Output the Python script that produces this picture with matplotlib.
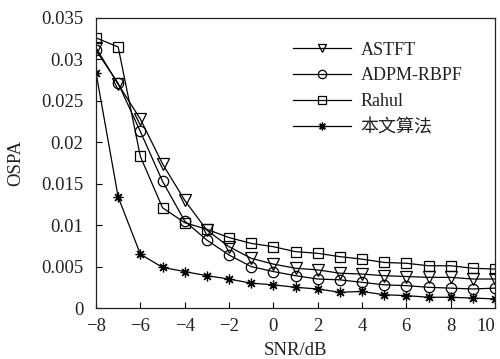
import numpy as np
import matplotlib
matplotlib.use("Agg")
import matplotlib.pyplot as plt

# SNR (dB) and OSPA values per method
snr = [-8, -7, -6, -5, -4, -3, -2, -1, 0, 1, 2, 3, 4, 5, 6, 7, 8, 9, 10]
astft = [0.0314, 0.0270, 0.0228, 0.0174, 0.0130, 0.0094, 0.0074, 0.0060, 0.0053, 0.0048,
         0.0046, 0.0042, 0.0041, 0.0039, 0.0038, 0.0037, 0.0037, 0.0035, 0.0035]
adpm_rbpf = [0.0311, 0.0271, 0.0213, 0.0153, 0.0105, 0.0082, 0.0064, 0.0050, 0.0044, 0.0039,
             0.0035, 0.0034, 0.0031, 0.0028, 0.0027, 0.0025, 0.0024, 0.0023, 0.0024]
rahul = [0.0326, 0.0315, 0.0183, 0.0121, 0.0103, 0.0095, 0.0085, 0.0078, 0.0074, 0.0068,
         0.0066, 0.0062, 0.0059, 0.0055, 0.0054, 0.0051, 0.0051, 0.0048, 0.0047]
ours = [0.0284, 0.0134, 0.0065, 0.0049, 0.0044, 0.0039, 0.0035, 0.0030, 0.0028, 0.0025,
        0.0023, 0.0019, 0.0020, 0.0016, 0.0015, 0.0013, 0.0013, 0.0012, 0.0011]

labels = ["ASTFT", "ADPM-RBPF", "Rahul", "本文算法"]
xticks = [-8, -6, -4, -2, 0, 2, 4, 6, 8, 10]
yticks = [0, 0.005, 0.01, 0.015, 0.02, 0.025, 0.03, 0.035]
ytick_labels = ["0", "0.005", "0.01", "0.015", "0.02", "0.025", "0.03", "0.035"]

fonts = ["Liberation Serif", "Noto Sans CJK SC"]
plt.rcParams["font.family"] = fonts
plt.rcParams["font.size"] = 13
text_color = "#222222"

fig = plt.figure(figsize=(5.0, 3.59), dpi=100)
ax = fig.add_axes([0.192, 0.142, 0.798, 0.808])

common = dict(color="black", lw=0.9, markerfacecolor="none", markeredgecolor="black",
              markeredgewidth=0.9)
ax.plot(snr, astft, marker="v", markersize=8, label=labels[0], **common)
ax.plot(snr, adpm_rbpf, marker="o", markersize=7.5, label=labels[1], **common)
ax.plot(snr, rahul, marker="s", markersize=7.5, label=labels[2], **common)
ax.plot(snr, ours, marker=(8, 2, 0), markersize=7, label=labels[3], **common)

ax.set_xlim(-8, 10)
ax.set_ylim(0, 0.035)
ax.set_xticks(xticks)
ax.set_yticks(yticks)
ax.set_yticklabels(ytick_labels)
ax.tick_params(direction="in", length=4, width=0.8, labelsize=13.5,
               labelcolor=text_color, top=False, right=False)
ax.tick_params(axis="y", pad=9)
ax.tick_params(axis="x", pad=7)
ax.get_xticklabels()[-1].set_horizontalalignment("right")
for s in ax.spines.values():
    s.set_linewidth(0.9)
    s.set_color("#222222")

ax.set_xlabel("SNR/dB", fontsize=13.5, labelpad=5, color=text_color)
ax.set_ylabel("OSPA", fontsize=13.5, labelpad=12, color=text_color)

leg = ax.legend(loc="upper left", bbox_to_anchor=(0.494, 0.918), frameon=False,
                borderpad=0, borderaxespad=0, handlelength=3.2, handletextpad=0.55,
                labelspacing=0.48, markerscale=0.8,
                prop={"family": fonts, "size": 13})
for t in leg.get_texts():
    t.set_color(text_color)

fig.savefig("out.png", dpi=100)
